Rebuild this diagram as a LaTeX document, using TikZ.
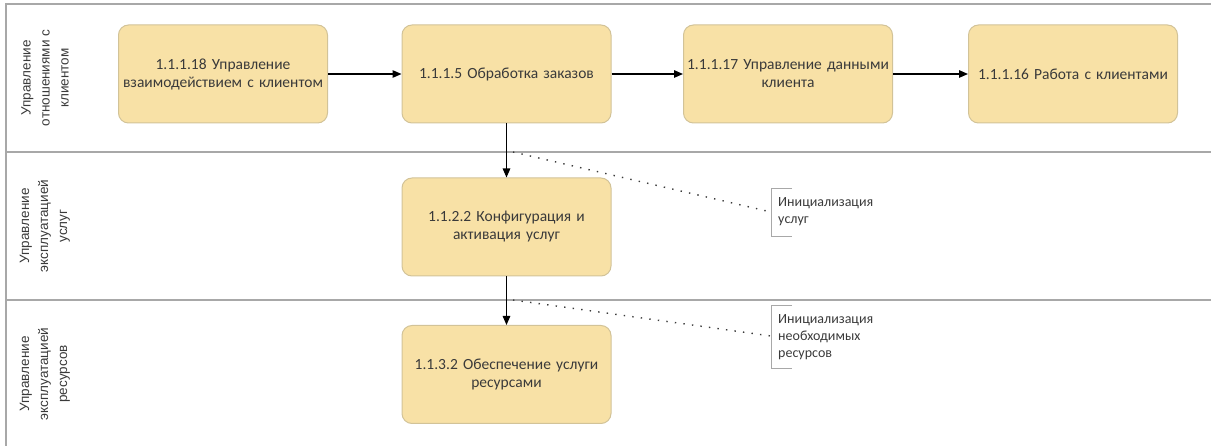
\documentclass[tikz,border=0pt]{standalone}
\usepackage{fontspec}
\setmainfont{Carlito}
\newfontfamily\lanefont{Liberation Sans}
\usetikzlibrary{arrows.meta}
\definecolor{taskfill}{HTML}{F8E1A6}
\definecolor{taskline}{HTML}{D2C398}
\definecolor{laneline}{HTML}{A8A8A8}
\definecolor{inkgray}{HTML}{3A3A3A}
\begin{document}
\begin{tikzpicture}[x=1pt,y=-1pt,
  task/.style={draw=taskline, fill=taskfill, line width=1pt, rounded corners=10pt,
    minimum width=209pt, minimum height=98pt, text width=205pt, align=center,
    inner sep=0pt, font=\fontsize{15.5}{18}\selectfont, text=inkgray},
  flow/.style={line width=1.3pt, draw=black, -{Triangle[length=9pt,width=7.5pt]}},
  lanelbl/.style={rotate=90, align=center, inner sep=0pt,
    font=\lanefont\fontsize{13.5}{19}\selectfont, text=inkgray},
  lane/.style={draw=laneline, line width=2pt},
  note/.style={align=left, anchor=west, inner sep=0pt,
    font=\fontsize{14}{17}\selectfont, text=inkgray},
  bracket/.style={draw=laneline, line width=0.9pt},
  assoc/.style={dash pattern=on 1.4pt off 7.2pt, line width=1.4pt, draw=inkgray}
]
\useasboundingbox (0,0) rectangle (1211,446);

% pool frame and lane separators
\draw[lane] (1211,4) -- (6,4) -- (6,446);
\draw[lane] (6,152) -- (1211,152);
\draw[lane] (6,300) -- (1211,300);

% lane headers
\node[lanelbl] (lane1) at (45,78) {Управление\\отношениями с\\клиентом};
\node[lanelbl] (lane2) at (45,226) {Управление\\эксплуатацией\\услуг};
\node[lanelbl] (lane3) at (45,374) {Управление\\эксплуатацией\\ресурсов};

% process steps
\node[task] (t1) at (223,74) {1.1.1.18 Управление\\взаимодействием с клиентом};
\node[task] (t2) at (506.5,74) {1.1.1.5 Обработка заказов};
\node[task] (t3) at (788,74) {1.1.1.17 Управление данными\\клиента};
\node[task] (t4) at (1073,74) {1.1.1.16 Работа с клиентами};
\node[task] (t5) at (506.5,227) {1.1.2.2 Конфигурация и\\активация услуг};
\node[task] (t6) at (506.5,374.5) {1.1.3.2 Обеспечение услуги\\ресурсами};

% sequence flows
\draw[flow] (t1) -- (t2);
\draw[flow] (t2) -- (t3);
\draw[flow] (t3) -- (t4);
\draw[flow] (t2) -- (t5);
\draw[flow] (t5) -- (t6);

% text annotations with their associations
\coordinate (a1) at (513,152);
\coordinate (br1) at (771,212);
\draw[bracket] (792,188) -| (771,236) -- (792,236);
\node[note] (n1) at (778,212) {Инициализация\\услуг};
\draw[assoc] (a1) -- (br1);

\coordinate (a2) at (513,300);
\coordinate (br2) at (771,336);
\draw[bracket] (792,305) -| (771,368) -- (792,368);
\node[note] (n2) at (778,337) {Инициализация\\необходимых\\ресурсов};
\draw[assoc] (a2) -- (br2);
\end{tikzpicture}
\end{document}
